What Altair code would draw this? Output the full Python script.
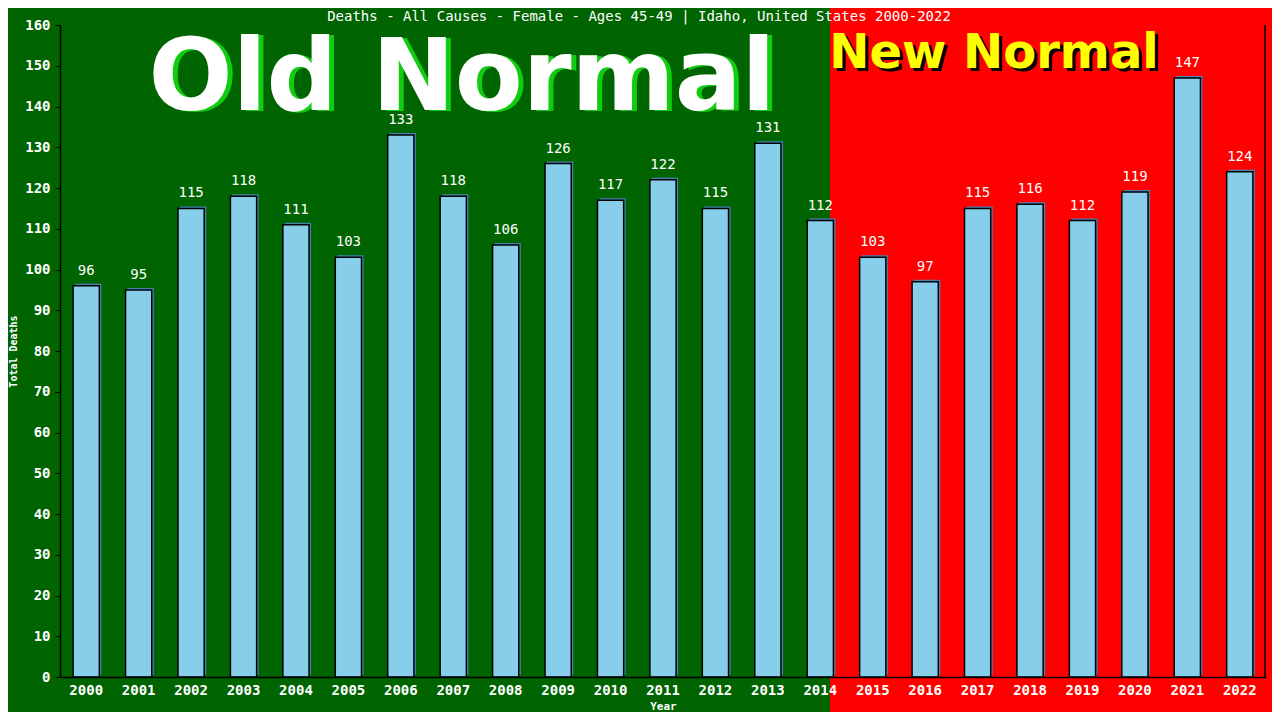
import altair as alt
import pandas as pd

years = [str(y) for y in range(2000, 2023)]
deaths = [96, 95, 115, 118, 111, 103, 133, 118, 106, 126, 117, 122,
          115, 131, 112, 103, 97, 115, 116, 112, 119, 147, 124]
y_ticks = list(range(0, 161, 10))
title_text = "Deaths - All Causes - Female - Ages 45-49 | Idaho, United States 2000-2022"

df = pd.DataFrame({"Year": years, "Deaths": deaths})

W, H = 1206, 652
MONO = "DejaVu Sans Mono"
SANS = "DejaVu Sans"

xenc = alt.X("Year:N", sort=years,
             scale=alt.Scale(paddingInner=0.5, paddingOuter=0.25),
             axis=alt.Axis(title="Year", labelAngle=0, ticks=False, labelColor="white",
                           labelFont=MONO, labelFontSize=14, labelFontWeight="bold",
                           labelPadding=6, domainColor="black", domainWidth=1.5,
                           titleColor="white", titleFont=MONO, titleFontSize=11,
                           titleFontWeight="bold", titlePadding=3, zindex=2))
yenc = alt.Y("Deaths:Q", scale=alt.Scale(domain=[0, 160], nice=False),
             axis=alt.Axis(title="Total Deaths", values=y_ticks, grid=False,
                           labelColor="white", labelFont=MONO, labelFontSize=14,
                           labelFontWeight="bold", labelPadding=5,
                           tickColor="black", tickSize=5, domainColor="black",
                           domainWidth=1.5, titleColor="white", titleFont=MONO,
                           titleFontSize=10, titleFontWeight="bold", titlePadding=6,
                           zindex=2))

one = alt.Data(values=[{}])

bg_green = alt.Chart(one).mark_rect(color="#006400").encode(
    x=alt.value(-60), x2=alt.value(770), y=alt.value(-30), y2=alt.value(720))
bg_red = alt.Chart(one).mark_rect(color="#FF0000").encode(
    x=alt.value(770), x2=alt.value(1300), y=alt.value(-30), y2=alt.value(720))

title_mark = alt.Chart(one).mark_text(text=title_text, font=MONO, fontSize=14,
                                      color="white", align="center",
                                      baseline="middle").encode(
    x=alt.value(579), y=alt.value(-8))

base = alt.Chart(df)
shadow = base.mark_bar(color="#4682B4", xOffset=2, yOffset=-2).encode(x=xenc, y=yenc)
bars = base.mark_bar(fill="#87CEEB", stroke="black", strokeWidth=1.5).encode(x=xenc, y=yenc)
labels = base.mark_text(color="white", font=MONO, fontSize=14, dy=-8,
                        baseline="bottom").encode(x=xenc, y=yenc, text="Deaths:Q")

right_rule = alt.Chart(one).mark_rule(color="black", strokeWidth=1.5).encode(
    x=alt.value(W - 1), y=alt.value(0), y2=alt.value(H))

old_shadow = alt.Chart(one).mark_text(text="Old Normal", font=SANS, fontWeight="bold",
                                      fontSize=99, color="#11CC11", align="center",
                                      baseline="alphabetic").encode(
    x=alt.value(407), y=alt.value(86))
old_text = alt.Chart(one).mark_text(text="Old Normal", font=SANS, fontWeight="bold",
                                    fontSize=99, color="white", align="center",
                                    baseline="alphabetic").encode(
    x=alt.value(402), y=alt.value(85))
new_shadow = alt.Chart(one).mark_text(text="New Normal", font=SANS, fontWeight="bold",
                                      fontSize=48, color="black", align="center",
                                      baseline="alphabetic").encode(
    x=alt.value(937), y=alt.value(46))
new_text = alt.Chart(one).mark_text(text="New Normal", font=SANS, fontWeight="bold",
                                    fontSize=48, color="#FFFF00", align="center",
                                    baseline="alphabetic").encode(
    x=alt.value(934), y=alt.value(43))

chart = alt.layer(
    bg_green, bg_red, title_mark, old_shadow, old_text, new_shadow, new_text,
    shadow, bars, labels, right_rule
).properties(
    width=W, height=H,
    autosize=alt.AutoSizeParams(type="none"),
    padding={"left": 52, "top": 17, "right": 6, "bottom": 35},
    background="#FF0000",
).configure_view(stroke=None)

chart.save("out.html", embed_options={"renderer": "svg", "actions": False})
